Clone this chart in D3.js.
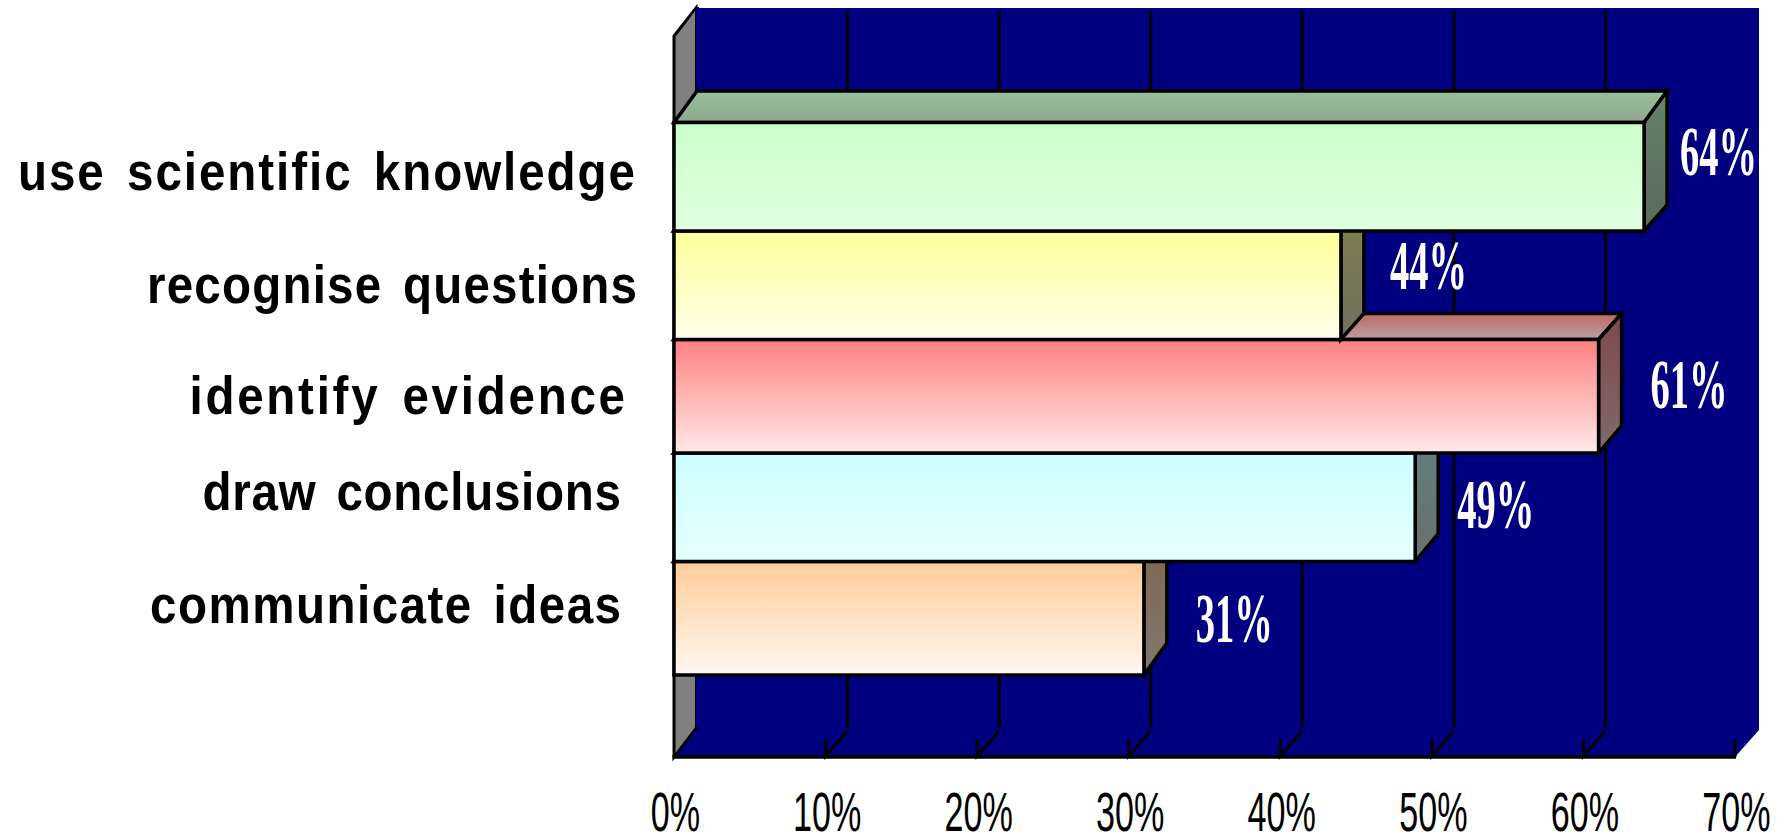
<!DOCTYPE html>
<html><head><meta charset="utf-8">
<script src="https://cdn.jsdelivr.net/npm/d3@7"></script>
<style>html,body{margin:0;padding:0;background:#fff;overflow:hidden}svg{display:block}</style>
</head><body><svg id="c" width="1792" height="835"></svg>
<script>
const categories=["use scientific knowledge","recognise questions","identify evidence","draw conclusions","communicate ideas"];
const values=[64,44,61,48.9,31];
const valueLabels=["64%","44%","61%","49%","31%"];
const tickValues=[0,10,20,30,40,50,60,70];
const frontTop=["#CCFFCC","#FFFF99","#FF8080","#CCFFFF","#FFCC99"];
const frontBottom=["#E0FFE0","#FFFFEA","#FFE8E8","#E6FFFF","#FFF8F2"];
const topTop=["#99BF99","#BFBF73","#C06868","#99BFBF","#BF9973"];
const topBottom=["#8FA88F","#A8A88F","#B8A0A0","#8FA8A8","#A8978F"];
const sideTop=["#65836A","#80804F","#7F4A4A","#668080","#806650"];
const sideBottom=["#5A6A5A","#707060","#806A6A","#667070","#807870"];

// layout
const bandEdges=[122.5,231,339.5,453,561.5,675];
const topDepth=[31.5,26,26,26,26];
const bottomDepth=[26,26,27,28,32];
const labelGap=[36,49,52,42,52];
const labelBase=[175,289,408,528,642];
const catLeft=[18,147,189.5,202.5,150];
const catRight=[635,637,625,621,621];
const catBase=[190,303,414,510,623];
const dx=22, barDx=23, catScale=.88;

const svg=d3.select("#c");
const x=d3.scaleLinear().domain([0,70]).range([674,1735]);
const yEdge=d3.scaleLinear().domain(d3.range(bandEdges.length)).range(bandEdges);
const yWall=d3.scaleLinear().domain([0,1]).range([8,730]);
const floorY=757, wallFrontTop=36, backBottom=730;
const line=d3.line();
const defs=svg.append("defs");
function grad(id,a,b){const g=defs.append("linearGradient").attr("id",id).attr("x1",0).attr("x2",0).attr("y1",0).attr("y2",1);
  g.append("stop").attr("offset",0).attr("stop-color",a);g.append("stop").attr("offset",1).attr("stop-color",b);}
values.forEach((v,i)=>{grad("f"+i,frontTop[i],frontBottom[i]);grad("t"+i,topTop[i],topBottom[i]);grad("s"+i,sideTop[i],sideBottom[i]);});

// back wall + floor
svg.append("path").attr("fill","#000080").attr("d",line([[x(0)+dx,yWall(0)],[x(70)+dx+2,yWall(0)],[x(70)+dx+2,backBottom],[x(70),floorY],[x(0),floorY]])+"Z");
// left wall
svg.append("path").attr("fill","#808080").attr("stroke","#000").attr("stroke-width",3).attr("stroke-linejoin","miter")
  .attr("d",line([[x(0),wallFrontTop],[x(0)+dx,yWall(0)],[x(0)+dx,backBottom-2],[x(0),floorY]])+"Z");
svg.append("path").attr("fill","none").attr("stroke","#000080").attr("stroke-width",3)
  .attr("d",line([[x(0)+dx+1.5,yWall(0)-1],[x(0)+dx+1.5,backBottom-3]]));
svg.append("path").attr("fill","#808080").attr("d",line([[x(0)+2,wallFrontTop+2],[x(0)+dx-1,yWall(0)+3],[x(0)+dx-1,backBottom-3],[x(0)+2,floorY-5]])+"Z");
// gridlines
const gt=tickValues.filter(t=>t>0&&t<70);
svg.selectAll(".grid").data(gt).join("line").attr("class","grid").attr("x1",d=>x(d)+dx).attr("x2",d=>x(d)+dx)
  .attr("y1",yWall(0)+3).attr("y2",728).attr("stroke","#000").attr("stroke-width",3);
svg.selectAll(".diag").data(gt).join("path").attr("class","diag").attr("fill","none").attr("stroke","#000").attr("stroke-width",3)
  .attr("d",d=>line([[x(d)+dx,731],[x(d),floorY-1],[x(d),739]]));
svg.append("line").attr("x1",x(70)).attr("x2",x(70)).attr("y1",739).attr("y2",floorY).attr("stroke","#000").attr("stroke-width",3);
svg.append("line").attr("x1",x(0)-1.5).attr("x2",x(70)+1).attr("y1",floorY).attr("y2",floorY).attr("stroke","#000").attr("stroke-width",3.5);

// bars, bottom first
const order=d3.range(values.length).reverse();
const bars=svg.selectAll(".bar").data(order).join("g").attr("class","bar")
  .attr("stroke","#000").attr("stroke-width",3.5).attr("stroke-linejoin","miter");
bars.append("path").attr("fill",i=>`url(#t${i})`).attr("d",i=>{const a=x(0),b=x(values[i]),t=yEdge(i),u=t-topDepth[i];
  return line([[a,t],[a+barDx,u],[b+barDx,u],[b,t]])+"Z";});
bars.append("path").attr("fill",i=>`url(#s${i})`).attr("d",i=>{const b=x(values[i]),t=yEdge(i),e=yEdge(i+1);
  return line([[b,t],[b+barDx,t-topDepth[i]],[b+barDx,e-bottomDepth[i]],[b,e]])+"Z";});
bars.append("rect").attr("fill",i=>`url(#f${i})`).attr("x",x(0)).attr("y",i=>yEdge(i))
  .attr("width",i=>x(values[i])-x(0)).attr("height",i=>yEdge(i+1)-yEdge(i));

// value labels
svg.selectAll(".val").data(order).join("text").attr("class","val").text(i=>valueLabels[i])
  .attr("fill","#fff").attr("font-family","'Liberation Serif'").attr("font-weight","bold").attr("font-size",70)
  .attr("transform",i=>`translate(${x(values[i])+labelGap[i]},${labelBase[i]}) scale(.55,1)`);

// category labels
svg.selectAll(".cat").data(d3.range(categories.length)).join("text").attr("class","cat").text(i=>categories[i])
  .attr("textLength",i=>(catRight[i]-catLeft[i])/catScale).attr("lengthAdjust","spacing")
  .attr("word-spacing",7)
  .attr("transform",i=>`translate(${catLeft[i]},${catBase[i]}) scale(${catScale},1)`)
  .attr("fill","#000").attr("font-family","'Liberation Sans'").attr("font-weight","bold").attr("font-size",54);

// x axis labels
const axis=d3.axisBottom(x).tickValues(tickValues).tickFormat(d=>d+"%").tickSize(0);
const ag=svg.append("g").attr("transform",`translate(0,${floorY})`).call(axis);
ag.select(".domain").remove();
ag.selectAll("text").attr("y",0).attr("dy",0).attr("fill","#000")
  .attr("font-family","'Liberation Sans'").attr("font-size",56).attr("text-anchor","middle")
  .attr("transform","translate(1,74) scale(.61,1)");
</script></body></html>
